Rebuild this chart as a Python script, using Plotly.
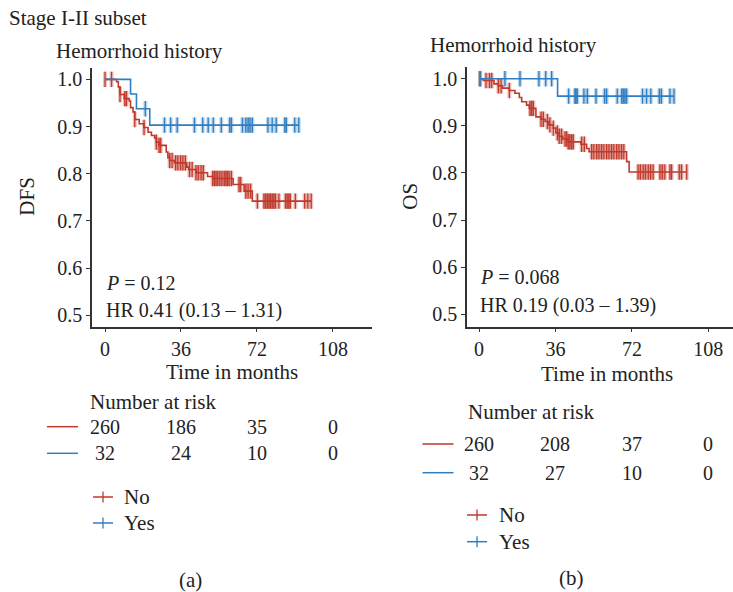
import plotly.graph_objects as go

W, H = 733, 592
FONT = "Liberation Serif"

groups = ["No", "Yes"]
colors = {"No": "#C0392B", "Yes": "#2F7EC1"}

# ---------------- DFS (panel a) ----------------
dfs_no_t = [0, 5.5, 6.3, 7.1, 9.1, 11.5, 12.1, 13.3, 14.1, 16.2, 18.4, 20.4, 22.0, 23.5,
            24.3, 25.6, 29.0, 29.8, 30.6, 32.9, 38.7, 39.7, 43.1, 48.6, 51.0, 60.7, 65.9, 69.8]
dfs_no_s = [1.0, 0.995, 0.984, 0.968, 0.959, 0.954, 0.940, 0.931, 0.915, 0.906, 0.898, 0.888,
            0.881, 0.876, 0.867, 0.860, 0.846, 0.834, 0.828, 0.823, 0.814, 0.809, 0.802, 0.794,
            0.790, 0.777, 0.763, 0.742]
dfs_no_end = 97.7
dfs_no_cens = [0, 3.1, 7.1, 9.4, 10.2, 14.1, 18.5, 24.3, 25.6, 26.4, 30.6, 31.8, 33.4, 34.5,
               35.8, 36.9, 38.1, 40.0, 41.3, 43.1, 44.2, 45.5, 46.6, 51.0, 51.8, 52.6, 53.4,
               54.4, 55.4, 56.5, 57.3, 58.0, 58.8, 59.9, 63.5, 64.3, 66.7, 67.8, 69.0, 72.2,
               75.3, 76.1, 76.9, 77.7, 78.4, 79.2, 80.0, 80.8, 82.4, 85.5, 86.3, 87.1, 87.8,
               90.2, 94.6, 96.1, 97.7]

dfs_yes_t = [0, 12.1, 14.9, 21.2]
dfs_yes_s = [1.0, 0.969, 0.9375, 0.903]
dfs_yes_end = 91.8
dfs_yes_cens = [19.1, 28.2, 31.1, 34.2, 42.4, 46.3, 48.9, 51.3, 55.1, 59.1, 59.9, 65.1, 66.7,
                67.8, 68.7, 69.8, 77.2, 79.2, 81.1, 85.2, 85.9, 89.9, 91.8]

# ---------------- OS (panel b) ----------------
os_no_t = [0, 2.0, 7.1, 9.1, 11.1, 14.3, 16.9, 19.0, 20.1, 22.4, 23.7, 26.8, 29.2, 31.1, 32.9,
           35.0, 36.2, 37.8, 39.4, 42.0, 48.0, 50.7, 51.8, 69.5, 70.7]
os_no_s = [1.0, 0.996, 0.989, 0.985, 0.980, 0.975, 0.969, 0.960, 0.951, 0.944, 0.937, 0.919,
           0.914, 0.909, 0.902, 0.895, 0.885, 0.878, 0.872, 0.866, 0.861, 0.852, 0.845, 0.824,
           0.802]
os_no_end = 98.0
os_no_cens = [0.5, 3.3, 4.9, 6.0, 9.1, 10.4, 14.3, 24.0, 24.8, 25.6, 29.2, 30.3, 32.2, 33.4,
              35.0, 36.9, 37.8, 38.9, 40.5, 41.3, 42.0, 42.8, 43.6, 44.4, 48.3, 49.6, 53.0,
              54.1, 55.4, 56.5, 57.7, 58.8, 60.1, 61.2, 62.4, 63.5, 64.8, 65.9, 67.1, 68.2,
              74.9, 76.0, 77.3, 78.4, 79.7, 80.8, 82.0, 85.2, 86.3, 87.5, 89.9, 90.7, 94.3,
              95.4, 97.8]

os_yes_t = [0, 37.0]
os_yes_s = [1.0, 0.963]
os_yes_end = 91.8
os_yes_cens = [0.5, 12.2, 19.3, 28.2, 31.4, 34.2, 42.2, 45.2, 45.6, 46.3, 49.4, 51.0, 55.1,
               59.1, 60.1, 65.1, 67.2, 67.9, 68.7, 69.5, 77.0, 78.9, 80.9, 84.9, 85.9, 89.9,
               91.8]

# ---------------- tables / text ----------------
x_ticks = [0, 36, 72, 108]
y_ticks = [0.5, 0.6, 0.7, 0.8, 0.9, 1.0]
risk_a = {"No": [260, 186, 35, 0], "Yes": [32, 24, 10, 0]}
risk_b = {"No": [260, 208, 37, 0], "Yes": [32, 27, 10, 0]}
stats_a = ["<i>P</i> = 0.12", "HR 0.41 (0.13 – 1.31)"]
stats_b = ["<i>P</i> = 0.068", "HR 0.19 (0.03 – 1.39)"]
main_title = "Stage I-II subset"
panel_title = "Hemorrhoid history"
y_titles = ["DFS", "OS"]
x_title = "Time in months"
panel_labels = ["(a)", "(b)"]


def px(x):
    return x / W


def py(y):
    return 1 - y / H


def step_at(ts, ss, c):
    val = ss[0]
    for t, s in zip(ts, ss):
        if t <= c:
            val = s
    return val


fig = go.Figure()

curves = [
    ("x", "y", "No", dfs_no_t, dfs_no_s, dfs_no_end, dfs_no_cens),
    ("x", "y", "Yes", dfs_yes_t, dfs_yes_s, dfs_yes_end, dfs_yes_cens),
    ("x2", "y2", "No", os_no_t, os_no_s, os_no_end, os_no_cens),
    ("x2", "y2", "Yes", os_yes_t, os_yes_s, os_yes_end, os_yes_cens),
]
for xa, ya, g, ts, ss, end, cens in curves:
    col = colors[g]
    fig.add_trace(go.Scatter(x=list(ts) + [end], y=list(ss) + [ss[-1]], mode="lines",
                             line=dict(color=col, width=1.6, shape="hv"), xaxis=xa, yaxis=ya,
                             showlegend=False, hoverinfo="skip"))
    cy = [step_at(ts, ss, c) for c in cens]
    # soft halo behind the censor ticks
    fig.add_trace(go.Scatter(x=cens, y=cy, mode="markers",
                             marker=dict(symbol="line-ns", size=11, opacity=0.3,
                                         line=dict(color=col, width=4)),
                             xaxis=xa, yaxis=ya, showlegend=False, hoverinfo="skip"))
    fig.add_trace(go.Scatter(x=cens, y=cy, mode="markers", name=g,
                             marker=dict(symbol="line-ns", size=11,
                                         line=dict(color=col, width=1.3)),
                             xaxis=xa, yaxis=ya, showlegend=False))

axis_common = dict(showgrid=False, zeroline=False, showline=True, linecolor="#333333",
                   linewidth=1.5, ticks="outside", ticklen=4, tickwidth=1.2,
                   tickcolor="#333333", tickfont=dict(family=FONT, size=20, color="#222222"))

fig.update_layout(
    width=W, height=H, margin=dict(l=0, r=0, t=0, b=0),
    paper_bgcolor="white", plot_bgcolor="white", showlegend=False,
    xaxis=dict(domain=[px(92), px(372)], range=[-6.16, 126.5], tickvals=x_ticks,
               anchor="y", **axis_common),
    yaxis=dict(domain=[py(326.7), py(68)], range=[0.4758, 1.024], tickvals=y_ticks,
               tickformat=".1f", anchor="x", **axis_common),
    xaxis2=dict(domain=[px(467), px(733)], range=[-5.65, 119.6], tickvals=x_ticks,
                anchor="y2", **axis_common),
    yaxis2=dict(domain=[py(326.7), py(67)], range=[0.4737, 1.0248], tickvals=y_ticks,
                tickformat=".1f", anchor="x2", **axis_common),
)

ann = []
shapes = []


def text(x, y, s, size=21, xanchor="left", angle=0):
    ann.append(dict(x=px(x), y=py(y), xref="paper", yref="paper", text=s, showarrow=False,
                    xanchor=xanchor, yanchor="middle", textangle=angle, borderpad=0,
                    font=dict(family=FONT, size=size, color="#222222")))


text(8, 18, main_title)
text(55, 51, panel_title)
text(429, 45, panel_title)
text(26.7, 196, y_titles[0], angle=-90, xanchor="center")
text(410, 196.7, y_titles[1], angle=-90, xanchor="center")
text(232.5, 371.5, x_title, xanchor="center")
text(606.7, 373.5, x_title, xanchor="center")
text(105, 282.7, stats_a[0], size=20)
text(105, 310.7, stats_a[1], size=20)
text(479, 276.7, stats_b[0], size=20)
text(479, 305, stats_b[1], size=20)

# risk tables
panels = [
    dict(risk=risk_a, x0=105, step=76.1, title=(89, 401.5), rows=[426.7, 453.3],
         line=(47, 78), leg_plus=103, leg_text=123, leg_rows=[497, 523], lab=(190.7, 580)),
    dict(risk=risk_b, x0=479, step=76.4, title=(466.5, 411.7), rows=[444, 472.7],
         line=(422.5, 453.5), leg_plus=477, leg_text=498, leg_rows=[515, 541.7], lab=(571.7, 578)),
]
for i, p in enumerate(panels):
    text(p["title"][0], p["title"][1], "Number at risk")
    for g, ry in zip(groups, p["rows"]):
        shapes.append(dict(type="line", xref="paper", yref="paper", x0=px(p["line"][0]),
                           x1=px(p["line"][1]), y0=py(ry), y1=py(ry),
                           line=dict(color=colors[g], width=1.5)))
        for k, n in enumerate(p["risk"][g]):
            text(p["x0"] + k * p["step"], ry, str(n), size=20, xanchor="center")
    for g, ly in zip(groups, p["leg_rows"]):
        cx = p["leg_plus"]
        shapes.append(dict(type="line", xref="paper", yref="paper", x0=px(cx - 10),
                           x1=px(cx + 10), y0=py(ly), y1=py(ly),
                           line=dict(color=colors[g], width=1.5)))
        shapes.append(dict(type="line", xref="paper", yref="paper", x0=px(cx), x1=px(cx),
                           y0=py(ly - 5.5), y1=py(ly + 5.5),
                           line=dict(color=colors[g], width=1.3)))
        text(p["leg_text"], ly, g)
    text(p["lab"][0], p["lab"][1], panel_labels[i], xanchor="center")

fig.update_layout(annotations=ann, shapes=shapes)
fig.write_html("out.html", config={"displayModeBar": False},
               post_script="document.body.style.margin='0';document.body.style.overflow='hidden';")
